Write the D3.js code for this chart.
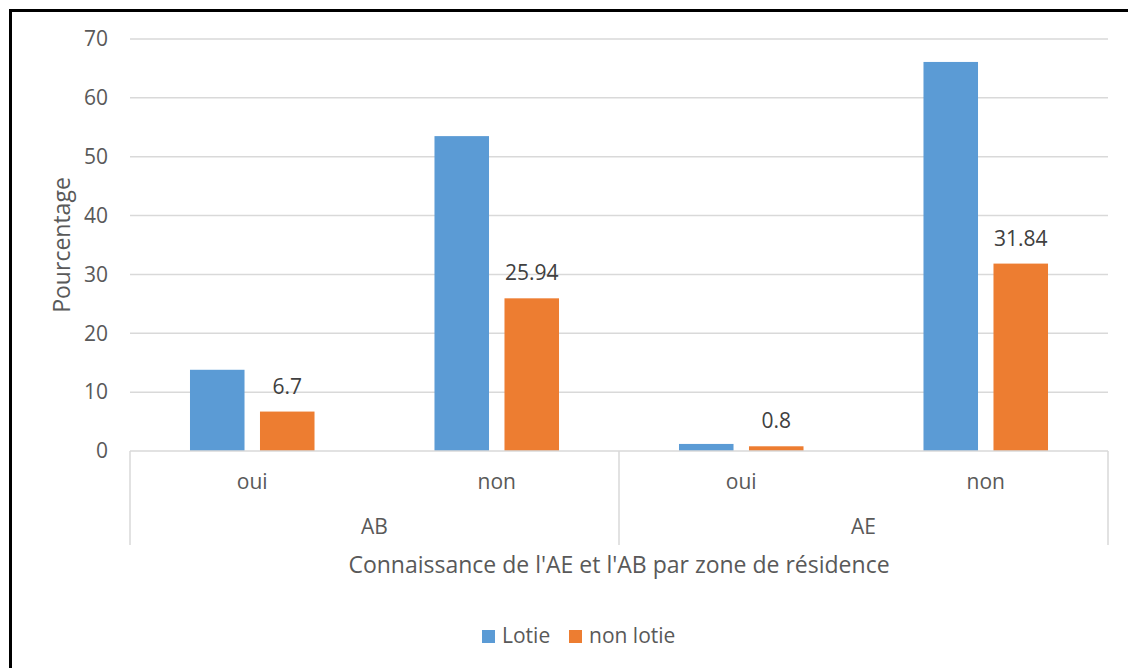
<!DOCTYPE html>
<html><head><meta charset="utf-8">
<script src="https://cdn.jsdelivr.net/npm/d3@7"></script>
<style>body{margin:0;background:#fff}svg{display:block}text{font-family:"Open Sans",sans-serif}</style>
</head><body><svg id="c" width="1128" height="668"></svg>
<script>
const groups = ["AB", "AE"];
const answers = ["oui", "non"];
const seriesNames = ["Lotie", "non lotie"];
const lotie = [13.8, 53.5, 1.2, 66.1];
const nonLotie = [6.7, 25.94, 0.8, 31.84];
const yTicks = [0, 10, 20, 30, 40, 50, 60, 70];
const colors = ["#5b9bd5", "#ed7d31"];
const axisTitle = "Connaissance de l'AE et l'AB par zone de résidence";
const yTitle = "Pourcentage";

const svg = d3.select("#c");
const L = 130, R = 1108, T = 39, B = 451;
const cats = [];
groups.forEach(g => answers.forEach(a => cats.push(g + "|" + a)));
const values = [lotie, nonLotie];

const x = d3.scaleBand().domain(cats).range([L, R]).padding(0);
const xs = d3.scaleBand().domain(seriesNames).range([0, x.bandwidth()]).paddingInner(0.221).paddingOuter(0.857);
const y = d3.scaleLinear().domain([0, 70]).range([B, T]);

// border
svg.append("path").attr("d", `M10.5,668 V10.5 H1128`).attr("fill", "none").attr("stroke", "#000").attr("stroke-width", 3);

// grid
svg.append("g").selectAll("line").data(yTicks.filter(d => d > 0)).join("line")
  .attr("x1", L).attr("x2", R).attr("y1", d => y(d)).attr("y2", d => y(d))
  .attr("stroke", "#d9d9d9").attr("stroke-width", 1.5);

// y ticks
svg.append("g").selectAll("text").data(yTicks).join("text")
  .attr("x", 108).attr("y", d => y(d)).attr("dy", "0.35em").attr("text-anchor", "end")
  .attr("fill", "#595959").attr("font-size", 21).text(d => d);

// bars
const sg = svg.append("g").selectAll("g").data(seriesNames).join("g").attr("fill", (d, i) => colors[i]);
sg.selectAll("rect").data((s, si) => cats.map((c, ci) => ({c, s, v: values[si][ci]}))).join("rect")
  .attr("x", d => x(d.c) + xs(d.s)).attr("width", xs.bandwidth())
  .attr("y", d => y(d.v)).attr("height", d => B - y(d.v));

// data labels for non lotie
svg.append("g").selectAll("text").data(cats.map((c, ci) => ({c, v: nonLotie[ci]}))).join("text")
  .attr("x", d => x(d.c) + xs("non lotie") + xs.bandwidth() / 2)
  .attr("y", d => y(d.v) - 18).attr("text-anchor", "middle")
  .attr("fill", "#404040").attr("font-size", 21).text(d => d.v);

// x axis baseline
svg.append("line").attr("x1", L).attr("x2", R).attr("y1", B).attr("y2", B).attr("stroke", "#d9d9d9").attr("stroke-width", 1.5);
// separators
const gx = d3.scaleBand().domain(groups).range([L, R]);
const seps = [L, ...groups.map(g => gx(g) + gx.bandwidth())];
svg.append("g").selectAll("line").data(seps).join("line")
  .attr("x1", d => d).attr("x2", d => d).attr("y1", B).attr("y2", 545)
  .attr("stroke", "#d9d9d9").attr("stroke-width", 1.5);

// category labels
svg.append("g").selectAll("text").data(cats).join("text")
  .attr("x", d => x(d) + x.bandwidth() / 2).attr("y", 489).attr("text-anchor", "middle")
  .attr("fill", "#595959").attr("font-size", 21).text(d => d.split("|")[1]);
svg.append("g").selectAll("text").data(groups).join("text")
  .attr("x", d => gx(d) + gx.bandwidth() / 2).attr("y", 534).attr("text-anchor", "middle")
  .attr("fill", "#595959").attr("font-size", 21).text(d => d);

// axis titles
svg.append("text").attr("x", (L + R) / 2).attr("y", 573).attr("text-anchor", "middle")
  .attr("fill", "#595959").attr("font-size", 23).text(axisTitle);
svg.append("text").attr("transform", `translate(62,${(T + B) / 2}) rotate(-90)`).attr("text-anchor", "middle")
  .attr("dy", "0.35em").attr("fill", "#595959").attr("font-size", 23).text(yTitle);

// legend
const lg = svg.append("g");
const legX = [482, 569];
seriesNames.forEach((s, i) => {
  lg.append("rect").attr("x", legX[i]).attr("y", 630).attr("width", 13).attr("height", 13).attr("fill", colors[i]);
  lg.append("text").attr("x", legX[i] + 20).attr("y", 643).attr("fill", "#595959").attr("font-size", 21).text(s);
});
</script></body></html>
